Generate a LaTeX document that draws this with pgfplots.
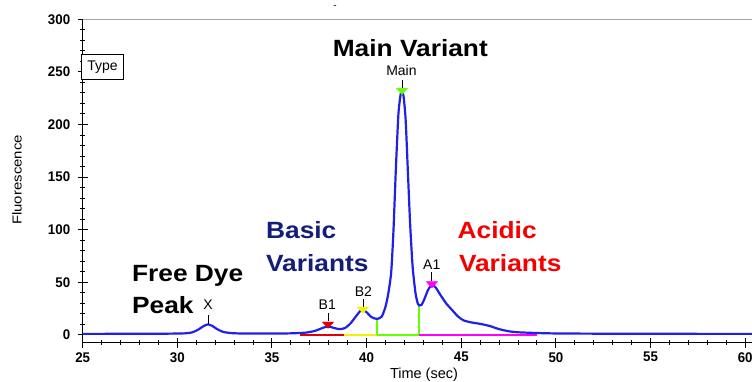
\documentclass[border=0pt]{standalone}
\usepackage{fontspec}
\setmainfont{Liberation Sans}
\newfontfamily\bigf{Liberation Sans Bold}[FakeStretch=1.12]
\newfontfamily\labf{Liberation Sans}[FakeStretch=1.15]
\newfontfamily\tickf{Liberation Sans Bold}[FakeStretch=0.95]
\usepackage{pgfplots}
\pgfplotsset{compat=1.18}
\definecolor{curveblue}{RGB}{32,32,232}
\definecolor{navyb}{RGB}{18,30,122}
\definecolor{redA}{RGB}{245,0,0}
\definecolor{mgreen}{RGB}{100,255,0}
\definecolor{myellow}{RGB}{245,240,0}
\definecolor{mmag}{RGB}{255,0,255}
\definecolor{mred}{RGB}{225,0,0}
\begin{document}
\begin{tikzpicture}
\useasboundingbox (-82.7pt,-38.3pt) rectangle (669.3pt,342.7pt);
\begin{axis}[
  at={(0,0)}, anchor=south west,
  scale only axis, width=669.3pt, height=323.4pt,
  xmin=25, xmax=60.36, ymin=-7.4, ymax=300,
  axis x line*=bottom, axis y line*=left,
  axis line style={black, line width=1.2pt, -},
  xtick={25,30,...,60}, ytick={0,50,...,300},
  minor x tick num=4, minor y tick num=4,
  tick align=center,
  major tick length=10pt, minor tick length=5pt,
  every tick/.style={black, line width=1pt},
  /pgf/number format/assume math mode=true,
  tick label style={font=\tickf\fontsize{14}{17}\selectfont},
  xticklabel style={yshift=-1pt},
  yticklabel style={xshift=-4pt},
  clip=false,
]
% top grey line
\addplot[gray!70, line width=1pt] coordinates {(25,300) (60.36,300)};
% baseline segments
\addplot[mred, line width=1.6pt] coordinates {(36.5,0.2) (38.8,0.2)};
\addplot[myellow, line width=1.6pt] coordinates {(38.8,0.2) (40.55,0.2)};
\addplot[mgreen, line width=1.6pt] coordinates {(40.55,0.2) (42.77,0.2)};
\addplot[mgreen, line width=1.6pt] coordinates {(40.55,0.2) (40.55,15.2)};
\addplot[mgreen, line width=1.6pt] coordinates {(42.77,0.2) (42.77,28)};
\addplot[mmag, line width=1.6pt] coordinates {(42.77,0.2) (49,0.2)};
% electropherogram
\addplot[curveblue, line width=2.2pt, smooth, tension=0.4] coordinates {
(25,1) (26,1) (28,1.2) (29.5,1.2) (30.4,1.5) (30.8,2.5) (31.1,5) (31.4,8.5)
(31.62,10) (31.85,8.5) (32.1,5.5) (32.4,3) (32.8,1.8) (33.5,1.3) (35,1.3)
(36,1.5) (36.8,2.2) (37.3,4) (37.65,6.5) (37.96,8) (38.25,6.8) (38.55,5.5)
(38.85,6.5) (39.15,11) (39.45,18) (39.65,22.5) (39.81,23.8) (40.0,21.5)
(40.25,17) (40.55,15.2) (40.8,17.5) (41.0,27) (41.15,40) (41.3,60) (41.42,100)
(41.55,160) (41.68,210) (41.8,229) (41.87,231) (41.95,227) (42.06,205)
(42.18,155) (42.3,105) (42.43,65) (42.58,40) (42.7,30) (42.77,28) (42.9,28.5)
(43.05,34) (43.25,43) (43.45,47.5) (43.65,45) (43.9,38) (44.2,30) (44.5,24)
(44.8,18) (45.1,14) (45.5,12) (46.0,10.5) (46.5,8.5) (47.0,5.5) (47.5,3.5)
(48.0,2.5) (49,1.8) (50,1.4) (52,1.2) (55,1.1) (58,1) (60.36,1)
};
% peak markers
\addplot[only marks, mark=triangle*, mark size=6.5pt, mark options={yscale=-0.65, fill=mred, draw=mred}] coordinates {(37.96,10.3)};
\addplot[only marks, mark=triangle*, mark size=6.5pt, mark options={yscale=-0.65, fill=myellow, draw=myellow}] coordinates {(39.81,24.5)};
\addplot[only marks, mark=triangle*, mark size=6.5pt, mark options={yscale=-0.65, fill=mgreen, draw=mgreen}] coordinates {(41.87,232.5)};
\addplot[only marks, mark=triangle*, mark size=6.5pt, mark options={yscale=-0.65, fill=mmag, draw=mmag}] coordinates {(43.45,48.6)};
% stems
\addplot[black, line width=0.9pt] coordinates {(31.62,10.5) (31.62,18.5)};
\addplot[black, line width=0.9pt] coordinates {(37.96,13.6) (37.96,21)};
\addplot[black, line width=0.9pt] coordinates {(39.81,27) (39.81,34.6)};
\addplot[black, line width=0.9pt] coordinates {(41.87,234.6) (41.87,242)};
\addplot[black, line width=0.9pt] coordinates {(43.45,51.7) (43.45,59.6)};
% peak labels
\node[anchor=base, font=\fontsize{14}{16}\selectfont] at (axis cs:31.62,23.8) {X};
\node[anchor=base, font=\fontsize{14}{16}\selectfont] at (axis cs:37.92,23.8) {B1};
\node[anchor=base, font=\fontsize{14}{16}\selectfont] at (axis cs:39.83,36.1) {B2};
\node[anchor=base, font=\fontsize{14}{16}\selectfont] at (axis cs:41.84,246.2) {Main};
\node[anchor=base, font=\fontsize{14}{16}\selectfont] at (axis cs:43.44,62.5) {A1};
% annotations
\node[anchor=base west, inner sep=0pt, font=\bigf\fontsize{23.5}{28}\selectfont] at (axis cs:27.6,50.7) {Free Dye};
\node[anchor=base west, inner sep=0pt, font=\bigf\fontsize{23.5}{28}\selectfont] at (axis cs:27.6,20.6) {Peak};
\node[anchor=base west, inner sep=0pt, text=navyb, font=\bigf\fontsize{23.5}{28}\selectfont] at (axis cs:34.68,91.9) {Basic};
\node[anchor=base west, inner sep=0pt, text=navyb, font=\bigf\fontsize{23.5}{28}\selectfont] at (axis cs:34.68,60.2) {Variants};
\node[anchor=base west, inner sep=0pt, text=redA, font=\bigf\fontsize{23.5}{28}\selectfont] at (axis cs:44.8,91.9) {Acidic};
\node[anchor=base west, inner sep=0pt, text=redA, font=\bigf\fontsize{23.5}{28}\selectfont] at (axis cs:44.87,60.2) {Variants};
\node[anchor=base west, inner sep=0pt, font=\bigf\fontsize{23.5}{28}\selectfont] at (axis cs:38.2,264.5) {Main Variant};
% Type box
\node[draw=black, line width=1pt, fill=white, minimum width=41.6pt, minimum height=25.7pt, inner sep=0pt, font=\fontsize{14}{16}\selectfont] at (axis cs:26.05,254.6) {Type};
% axis labels
\node[anchor=north, inner sep=0pt, font=\fontsize{14.5}{16}\selectfont] at (axis cs:43.03,-31.4) {Time (sec)};
\node[rotate=90, inner sep=0pt, font=\labf\fontsize{13}{15}\selectfont] at (axis cs:21.53,147.3) {Fluorescence};
\node[inner sep=0pt, font=\fontsize{10}{12}\selectfont] at (axis cs:38.33,311.8) {-};
\end{axis}
\end{tikzpicture}
\end{document}
